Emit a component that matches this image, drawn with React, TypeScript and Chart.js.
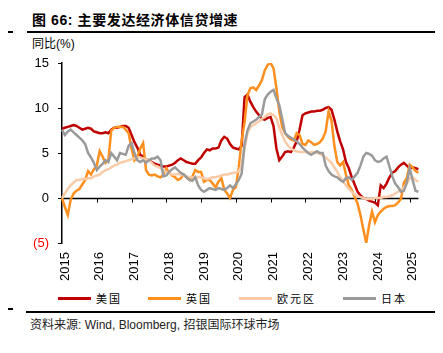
import React, { useEffect, useRef } from "react";
import { Chart, registerables } from "chart.js";

Chart.register(...registerables);

const YEARS = ["2015", "2016", "2017", "2018", "2019", "2020", "2021", "2022", "2023", "2024", "2025"];
const MONTHS_IN_LAST_YEAR = 4;

// Monthly YoY credit growth (%), Jan 2015 - Apr 2025
const US = [
  7.7, 7.8, 7.9, 8.0, 8.1, 8.0, 7.8, 7.6, 7.7, 7.8, 7.7, 7.4,
  7.3, 7.2, 7.2, 7.3, 7.2, 7.6, 7.8, 7.8, 7.9, 8.0, 8.0, 7.8,
  7.0, 6.2, 5.6, 4.8, 4.6, 4.3, 4.2, 4.0, 3.8, 3.7, 3.6, 3.5,
  3.5, 3.6, 3.7, 3.9, 4.2, 4.4, 4.2, 4.0, 3.9, 3.8, 3.8, 4.2,
  4.5, 5.0, 5.4, 5.3, 5.5, 5.5, 5.6, 6.4, 6.8, 6.6, 6.0, 5.6,
  5.5, 5.4, 5.8, 11.2, 11.5, 10.7, 10.1, 9.6, 9.2, 8.8, 8.7, 8.9,
  9.0, 8.0, 5.5, 4.2, 4.6, 5.1, 5.2, 5.1, 5.6, 6.3, 7.6, 9.2,
  9.4, 9.5, 9.6, 9.6, 9.7, 9.7, 9.8, 10.0, 10.1, 9.8, 8.7, 7.4,
  6.3, 5.4, 4.0, 3.3, 2.3, 1.5, 0.7, 0.3, 0.0, -0.1, -0.3, -0.4,
  -0.5, -0.8, 1.4, 1.1, 1.6, 2.3, 2.8, 3.0, 3.4, 3.7, 3.9, 3.6,
  3.3, 3.4, 3.3, 3.2,
];

const UK = [
  0.0, -1.0, -1.9, -0.2, 0.5, 0.8, 1.0, 1.5, 2.0, 3.0, 2.6, 3.2,
  3.6, 5.2, 4.6, 3.9, 4.2, 7.5, 7.8, 7.9, 7.9, 7.9, 7.6, 7.2,
  5.5, 4.2, 4.6, 5.5, 6.1, 3.1, 2.6, 2.5, 2.6, 2.4, 2.3, 2.6,
  3.3, 2.8, 2.5, 2.3, 2.0, 2.2, 2.6, 2.3, 2.0, 2.4, 3.1, 2.9,
  2.9, 1.8, 2.0, 2.0, 1.6, 1.2, 1.8, 2.2, 0.9, 0.5, 0.0, 0.9,
  1.2, 3.4, 6.4, 8.4, 11.4, 12.2, 12.3, 12.0, 12.5, 13.1, 14.2, 14.8,
  15.0, 14.4, 12.2, 9.6, 7.9, 7.2, 6.8, 6.5, 6.4, 7.2, 7.0, 6.0,
  5.9, 6.4, 6.2, 5.9, 6.0, 6.2, 6.6, 7.4, 9.6, 8.6, 5.8, 4.0,
  3.6, 4.0, 2.6, 1.4, 0.9, 0.1, -0.6, -1.9, -3.5, -5.0, -3.0, -1.5,
  -2.7, -1.9, -1.5, -1.2, -1.0, -0.9, -0.9, -0.8, -0.5, -0.1, 1.7, 2.2,
  3.7, 3.4, 3.0, 2.8,
];

const EURO = [
  0.0, 0.5, 1.0, 1.4, 1.7, 2.0, 2.0, 2.1, 2.1, 2.2, 2.2, 2.4,
  2.5, 2.6, 2.9, 3.1, 3.2, 3.4, 3.6, 3.7, 3.9, 4.0, 4.1, 4.2,
  4.3, 4.4, 4.5, 4.5, 4.4, 4.3, 4.2, 3.9, 3.6, 3.5, 3.3, 3.1,
  2.9, 2.7, 2.6, 2.6, 2.7, 2.6, 2.5, 2.4, 2.3, 2.3, 2.2, 2.3,
  2.3, 2.2, 2.1, 2.2, 2.3, 2.3, 2.4, 2.5, 2.6, 2.6, 2.7, 2.8,
  2.8, 3.0, 3.6, 5.5, 7.2, 7.9, 8.1, 8.3, 8.5, 8.8, 9.0, 9.3,
  9.4, 9.2, 8.9, 7.8, 7.0, 6.3, 5.8, 5.5, 5.3, 5.2, 5.1, 5.1,
  5.1, 5.0, 5.1, 5.1, 5.0, 4.9, 4.7, 4.5, 4.2, 3.9, 3.4, 2.9,
  2.3, 1.9, 1.4, 1.0, 0.7, 0.4, 0.2, 0.1, 0.0, -0.1, -0.1, -0.1,
  0.0, 0.0, 0.0, 0.1, 0.1, 0.2, 0.3, 0.5, 0.7, 0.9, 1.2, 1.6,
  2.2, 2.3, 2.0, 1.8,
];

const JAPAN = [
  7.6, 7.0, 7.4, 7.6, 7.3, 7.0, 6.7, 6.4, 6.0, 5.0, 4.5, 3.9,
  3.1, 3.5, 3.8, 4.2, 4.0, 5.0, 4.6, 4.2, 5.0, 4.9, 4.8, 5.8,
  6.1, 5.0, 4.2, 4.0, 4.2, 3.9, 4.2, 4.4, 4.4, 4.6, 4.2, 2.4,
  2.5, 2.9, 3.2, 3.4, 3.1, 2.8, 2.6, 2.3, 2.0, 1.9, 2.3, 1.4,
  0.9, 0.7, 0.9, 1.1, 1.0, 0.9, 1.1, 1.0, 0.9, 1.1, 1.4, 1.1,
  1.5, 2.0, 2.7, 6.0, 7.5, 8.3, 8.5, 8.7, 9.0, 9.3, 11.0, 11.5,
  11.8, 12.0, 11.1, 10.3, 8.8, 7.2, 6.9, 6.7, 6.5, 6.3, 6.0, 5.6,
  5.3, 5.0, 4.8, 5.0, 5.2, 5.0, 5.0, 3.6, 3.0, 2.6, 2.4, 2.3,
  2.0, 1.8, 2.2, 2.3, 2.0, 2.4, 2.8, 3.6, 4.6, 5.0, 4.9, 4.7,
  4.2, 4.0, 4.1, 4.4, 4.6, 3.5, 2.4, 1.6, 1.2, 0.7, 0.8, 1.7,
  3.3, 2.0, 0.8, 0.7,
];

const SERIES_NAMES = ["美国", "英国", "欧元区", "日本"];
const SERIES_COLORS = ["#C00000", "#FF8F1F", "#F9CBA8", "#9A9A9A"];

const Y_MIN = -5;
const Y_MAX = 15;
const Y_STEP = 5;

const LABELS: string[] = [];
YEARS.forEach((y, yi) => {
  const n = yi === YEARS.length - 1 ? MONTHS_IN_LAST_YEAR : 12;
  for (let m = 1; m <= n; m++) LABELS.push(`${y}-${String(m).padStart(2, "0")}`);
});

const zeroAxisPlugin = {
  id: "zeroAxis",
  beforeDatasetsDraw(chart: any) {
    const { ctx, chartArea, scales } = chart;
    const y0 = Math.round(scales.y.getPixelForValue(0)) + 0.5;
    ctx.save();
    ctx.strokeStyle = "#000";
    ctx.lineWidth = 1.5;
    ctx.beginPath();
    ctx.moveTo(chartArea.left, y0);
    ctx.lineTo(chartArea.right, y0);
    ctx.stroke();
    ctx.lineWidth = 1;
    ctx.beginPath();
    LABELS.forEach((lab, i) => {
      if (lab.endsWith("-01")) {
        const x = Math.round(scales.x.getPixelForValue(i)) + 0.5;
        ctx.moveTo(x, y0);
        ctx.lineTo(x, y0 + 4);
      }
    });
    ctx.stroke();
    ctx.restore();
  },
};

function LineChart() {
  const ref = useRef<HTMLCanvasElement | null>(null);
  useEffect(() => {
    if (!ref.current) return;
    const data = [US, UK, EURO, JAPAN];
    const chart = new Chart(ref.current, {
      type: "line",
      data: {
        labels: LABELS,
        datasets: data.map((d, i) => ({
          label: SERIES_NAMES[i],
          data: d,
          borderColor: SERIES_COLORS[i],
          backgroundColor: SERIES_COLORS[i],
          borderWidth: 2.5,
          pointRadius: 0,
          tension: 0,
          order: 4 - i,
        })),
      },
      options: {
        animation: false,
        responsive: false,
        maintainAspectRatio: false,
        layout: { padding: { top: 63, right: 21, bottom: 0, left: 0 } },
        plugins: { legend: { display: false }, tooltip: { enabled: false } },
        scales: {
          x: {
            type: "category",
            offset: false,
            grid: { display: false, drawTicks: false },
            border: { display: false },
            afterFit: (s: any) => {
              s.height = 45;
            },
            ticks: {
              autoSkip: false,
              minRotation: 90,
              maxRotation: 90,
              padding: 9,
              labelOffset: 3,
              color: "#000",
              font: { family: "Liberation Sans, Arial, sans-serif", size: 13 },
              callback: (_v: any, idx: number) =>
                LABELS[idx].endsWith("-01") ? LABELS[idx].slice(0, 4) : "",
            },
          },
          y: {
            min: Y_MIN,
            max: Y_MAX,
            afterFit: (s: any) => {
              s.width = 62;
            },
            grid: {
              display: true,
              drawOnChartArea: false,
              drawTicks: true,
              tickLength: 4,
              color: "#000",
            },
            border: { display: true, color: "#000", width: 1.5 },
            ticks: {
              stepSize: Y_STEP,
              padding: 9,
              font: { family: "Liberation Sans, Arial, sans-serif", size: 13 },
              color: (c: any) => (c.tick && c.tick.value < 0 ? "#FF0000" : "#000"),
              callback: (v: any) => (Number(v) < 0 ? `(${Math.abs(Number(v))})` : String(v)),
            },
          },
        },
      },
      plugins: [zeroAxisPlugin],
    });
    return () => chart.destroy();
  }, []);
  return (
    <canvas
      ref={ref}
      width={443}
      height={288}
      style={{ position: "absolute", left: 0, top: 0, width: 443, height: 288 }}
    />
  );
}

const cjk = "'Liberation Sans', Arial, 'Noto Sans CJK SC', sans-serif";

export default function App() {
  return (
    <div
      style={{
        position: "relative",
        width: 443,
        height: 353,
        margin: -8,
        background: "#fff",
        overflow: "hidden",
        fontFamily: cjk,
      }}
    >
      <div
        style={{
          position: "absolute",
          left: 32,
          top: 11,
          fontSize: 14,
          fontWeight: "bold",
          letterSpacing: 0.6,
          color: "#000",
          whiteSpace: "nowrap",
          lineHeight: "18px",
        }}
      >
        图 66: 主要发达经济体信贷增速
      </div>
      <div style={{ position: "absolute", left: 27, top: 31, width: 409, height: 2, background: "#000" }} />
      <div style={{ position: "absolute", left: 0, top: 31, width: 13, height: 2, background: "#000" }} />
      <div
        style={{
          position: "absolute",
          left: 32,
          top: 36,
          fontSize: 12,
          color: "#000",
          lineHeight: "16px",
          whiteSpace: "nowrap",
        }}
      >
        同比(%)
      </div>
      <LineChart />
      <div style={{ position: "absolute", left: -3, top: 276, fontSize: 12, color: "#000", lineHeight: "14px" }}>5</div>
      {SERIES_NAMES.map((name, i) => {
        const lefts = [58, 148, 239, 343];
        return (
          <div
            key={name}
            style={{ position: "absolute", left: lefts[i], top: 290, height: 16, display: "flex", alignItems: "center" }}
          >
            <div style={{ width: 33, height: 3, background: SERIES_COLORS[i] }} />
            <div style={{ marginLeft: 5, fontSize: 11, letterSpacing: 2, whiteSpace: "nowrap", color: "#000" }}>
              {name}
            </div>
          </div>
        );
      })}
      <div style={{ position: "absolute", left: 26, top: 311, width: 410, height: 2, background: "#000" }} />
      <div style={{ position: "absolute", left: 0, top: 308, width: 13, height: 2, background: "#000" }} />
      <div
        style={{
          position: "absolute",
          left: 30,
          top: 318,
          fontSize: 12,
          color: "#222",
          whiteSpace: "nowrap",
          lineHeight: "14px",
        }}
      >
        资料来源: Wind, Bloomberg, 招银国际环球市场
      </div>
    </div>
  );
}
